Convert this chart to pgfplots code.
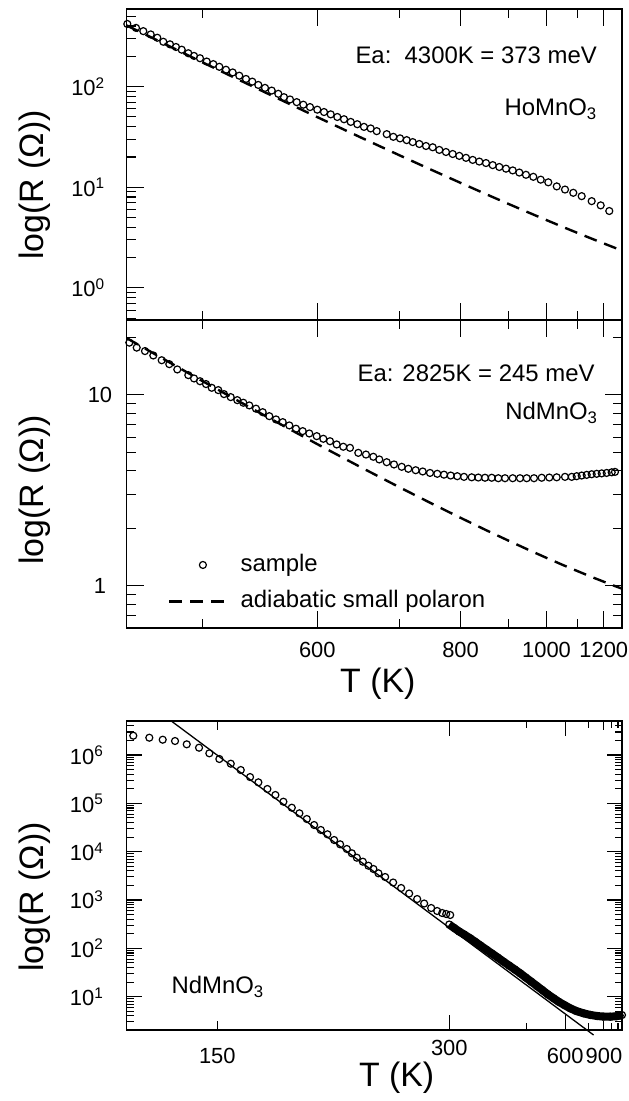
\documentclass[border=0pt]{standalone}
\usepackage{fontspec}
\setmainfont{Liberation Sans}
\usepackage{pgfplots}
\pgfplotsset{compat=1.18}
\pgfplotsset{/pgf/number format/assume math mode=true}
\pgfplotsset{
  myaxis/.style={
    scale only axis, width=495.3bp,
    axis line style={line width=1.5bp},
    every tick/.append style={black, line width=1.1bp},
    major tick length=17bp, minor tick length=9bp,
    tick label style={font=\fontsize{22}{26}\selectfont},
    label style={font=\fontsize{34}{40}\selectfont},
    x dir=reverse,
    yticklabel style={anchor=center},
    xticklabel style={anchor=center},
  },
  samp/.style={only marks, mark=o, mark size=3.5bp, mark options={line width=1.2bp, black}},
  polar/.style={black, line width=2.4bp, dash pattern=on 13bp off 8bp},
  legdash/.style={legend image code/.code={\draw[##1] (0bp,0bp) -- (60bp,0bp);}},
  legcirc/.style={legend image code/.code={\draw[mark repeat=2,mark phase=2,##1] plot coordinates {(0bp,0bp) (33.5bp,0bp) (60bp,0bp)};}},
}
\begin{document}
\begin{tikzpicture}[x=1bp,y=1bp]
\path[use as bounding box] (0,0) rectangle (629,-1101);
% ---------------- top panel: HoMnO3
\begin{axis}[ymode=log, myaxis, at={(126.7bp,-320bp)}, anchor=south west, height=311bp,
  xmin=0.7804, xmax=2.2211, ymin=0.48, ymax=590,
  xtick={1.6667,1.25,1,0.8333}, xticklabels={}, minor xtick={2,1.4286,1.1111,0.9091},
  ytick={1,10,100}, yticklabels={10\textsuperscript{0},10\textsuperscript{1},10\textsuperscript{2}},
  minor ytick={0.5,0.6,0.7,0.8,0.9,2,3,4,5,6,7,8,9,20,30,40,50,60,70,80,90,200,300,400,500},
  ytick pos=left, yticklabel style={xshift=-38.7bp},
  ylabel={log(R (Ω))}, ylabel style={at={(axis description cs:-0.185,0.434)}, anchor=center},
]
\addplot[polar] coordinates {
(2.2211,405) (2.0,173.8) (1.8182,87.5) (1.6667,49.75) (1.5385,31.05) (1.4286,20.85)
(1.3333,14.83) (1.25,11.06) (1.1765,8.56) (1.1111,6.845) (1.0526,5.62) (1.0,4.717)
(0.9524,4.035) (0.9091,3.51) (0.8696,3.096) (0.8333,2.764) (0.8,2.495) (0.7804,2.34)};
\addplot[samp] coordinates {
(2.2193,419) (2.1940,383) (2.1728,355.6) (2.1513,330) (2.1321,305.8) (2.1146,278.9)
(2.0952,263) (2.0777,247.4) (2.0611,232.6) (2.0419,214.5) (2.0253,201.8) (2.0079,191.4)
(1.9884,177.4) (1.9692,167.2) (1.9517,157.3) (1.9323,147) (1.9128,138.2) (1.8936,128.3)
(1.8741,119.1) (1.8558,112) (1.8383,103.9) (1.8188,97.1) (1.7993,91.3) (1.7801,84.8)
(1.7636,78.5) (1.7461,74.5) (1.7266,70.1) (1.7074,66.1) (1.6879,62.6) (1.6667,59.0)
(1.6472,55.9) (1.6277,53.0) (1.6085,49.9) (1.5890,47.4) (1.5695,44.6) (1.5504,42.3)
(1.5309,39.8) (1.5114,38.4) (1.4939,36.1) (1.4648,33.7) (1.4456,31.7) (1.4261,30.6)
(1.4067,29.4) (1.3892,28.1) (1.3700,26.9) (1.3505,25.7) (1.3310,24.96) (1.3118,23.5)
(1.2924,22.4) (1.2729,21.4) (1.2537,20.5) (1.2342,19.6) (1.2147,18.7) (1.1955,18.0)
(1.1760,17.4) (1.1565,16.6) (1.1373,15.9) (1.1178,15.3) (1.0983,14.7) (1.0791,14.0)
(1.0597,13.3) (1.0384,12.7) (1.0169,11.9) (0.9948,11.2) (0.9702,10.2) (0.9462,9.49)
(0.9221,8.81) (0.8977,8.16) (0.8686,7.28) (0.8424,6.61) (0.8174,5.81)};
\node[anchor=base east, inner sep=0, font=\fontsize{24}{28}\selectfont] at (axis description cs:0.9495,0.8254) {Ea:\ \ 4300K = 373 meV};
\node[anchor=base east, inner sep=0, font=\fontsize{24}{28}\selectfont] at (axis description cs:0.9495,0.656) {HoMnO\textsubscript{3}};
\end{axis}
% ---------------- middle panel: NdMnO3
\begin{axis}[ymode=log, myaxis, at={(126.7bp,-628bp)}, anchor=south west, height=308bp,
  xmin=0.7804, xmax=2.2211, ymin=0.6, ymax=24.7,
  xtick={1.6667,1.25,1,0.8333}, xticklabels={600,800,1000,1200}, minor xtick={2,1.4286,1.1111,0.9091},
  xticklabel style={yshift=-22bp},
  xlabel={T (K)}, xlabel style={at={(axis description cs:0.507,-0.182)}, anchor=center},
  ytick={1,10}, yticklabels={1,10},
  minor ytick={0.6,0.7,0.8,0.9,2,3,4,5,6,7,8,9,20},
  yticklabel style={xshift=-26.7bp},
  ylabel={log(R (Ω))}, ylabel style={at={(axis description cs:-0.185,0.448)}, anchor=center},
  reverse legend,
  legend style={at={(axis description cs:0.0834,0.2484)}, anchor=north west, draw=none, fill=none,
    font=\fontsize{24}{28}\selectfont, row sep=10bp, inner sep=0pt,
    nodes={inner sep=2bp, text height=17.5bp, text depth=5bp},
    /tikz/every odd column/.append style={column sep=8bp}},
  legend cell align=left,
]
\addplot[polar, legdash] coordinates {
(2.2211,19.85) (2.0,11.80) (1.8182,7.765) (1.6667,5.521) (1.5385,4.164) (1.4286,3.287)
(1.3333,2.692) (1.25,2.269) (1.1765,1.958) (1.1111,1.724) (1.0526,1.542) (1.0,1.399)
(0.9524,1.284) (0.9091,1.191) (0.8696,1.113) (0.8333,1.049) (0.8,0.994) (0.7804,0.965)};
\addlegendentry{adiabatic small polaron}
\addplot[samp, legcirc] coordinates {
(2.2135,18.8) (2.1920,17.7) (2.1679,16.98) (2.1437,16.1) (2.1193,15.2) (2.0972,14.5)
(2.0739,13.6) (2.0419,12.7) (2.0253,12.2) (2.0079,11.8) (1.9904,11.4) (1.9738,10.9)
(1.9547,10.6) (1.9381,10.1) (1.9186,9.74) (1.8994,9.39) (1.8819,9.10) (1.8645,8.81)
(1.8450,8.47) (1.8255,8.12) (1.8063,7.74) (1.7868,7.44) (1.7673,7.20) (1.7481,6.92)
(1.7287,6.65) (1.7092,6.46) (1.6900,6.28) (1.6684,6.08) (1.6492,5.89) (1.6298,5.72)
(1.6103,5.50) (1.5911,5.35) (1.5716,5.28) (1.5474,4.97) (1.5251,4.87) (1.5038,4.74)
(1.4864,4.59) (1.4648,4.44) (1.4436,4.32) (1.4212,4.20) (1.4020,4.10) (1.3805,4.03)
(1.3601,3.97) (1.3389,3.90) (1.3177,3.86) (1.2982,3.82) (1.2787,3.78) (1.2595,3.75)
(1.2400,3.72) (1.2176,3.70) (1.1984,3.69) (1.1789,3.68) (1.1594,3.68) (1.1402,3.66)
(1.1207,3.66) (1.0983,3.66) (1.0771,3.66) (1.0576,3.66) (1.0364,3.66) (1.0140,3.68)
(0.9919,3.69) (0.9704,3.70) (0.9462,3.72) (0.9267,3.72) (0.9122,3.75) (0.8977,3.78)
(0.8831,3.81) (0.8686,3.84) (0.8540,3.86) (0.8395,3.88) (0.8250,3.90) (0.8104,3.93)
(0.8008,3.95)};
\addlegendentry{sample}
\node[anchor=base east, inner sep=0, font=\fontsize{24}{28}\selectfont] at (axis description cs:0.945,0.7997) {Ea: 2825K = 245 meV};
\node[anchor=base east, inner sep=0, font=\fontsize{24}{28}\selectfont] at (axis description cs:0.951,0.6776) {NdMnO\textsubscript{3}};
\end{axis}
% ---------------- bottom panel: NdMnO3 wide range
\begin{axis}[ymode=log, myaxis, at={(126.7bp,-1030bp)}, anchor=south west, height=309bp,
  xmin=0.8513, xmax=7.9695, ymin=2.04, ymax=5.05e6, clip=false,
  xtick={3.3333,1.6667}, xticklabels={\raisebox{16bp}{300},600},
  extra x ticks={6.6667,1.1111}, extra x tick labels={150,900},
  extra x tick style={major tick length=9bp},
  minor xtick={2.2222,1.3333,1,0.9091},
  xticklabel style={yshift=-26bp},
  xlabel={T (K)}, xlabel style={at={(axis description cs:0.545,-0.155)}, anchor=center},
  ytick={10,100,1000,10000,100000,1000000},
  yticklabels={10\textsuperscript{1},10\textsuperscript{2},10\textsuperscript{3},10\textsuperscript{4},10\textsuperscript{5},10\textsuperscript{6}},
  minor ytick={3,4,5,6,7,8,9,20,30,40,50,60,70,80,90,200,300,400,500,600,700,800,900,2000,3000,4000,5000,6000,7000,8000,9000,20000,30000,40000,50000,60000,70000,80000,90000,200000,300000,400000,500000,600000,700000,800000,900000,2000000,3000000,4000000,5000000},
  yticklabel style={xshift=-40bp},
  minor tick length=7bp, major tick length=15bp,
  ylabel={log(R (Ω))}, ylabel style={at={(axis description cs:-0.185,0.43)}, anchor=center},
]
\addplot[black, line width=8bp] coordinates {
(3.3348,311.1) (3.2629,263.4) (3.1910,222.8) (3.1191,193.1) (3.0328,161.2) (2.9609,136.5)
(2.8890,115.5) (2.7927,92.3) (2.7164,77.4) (2.6374,64.6) (2.5540,52.9) (2.4720,43.9)
(2.3929,36.6) (2.3138,30.4) (2.2347,24.9) (2.1557,20.4) (2.0737,16.6) (1.9975,13.7)
(1.9184,11.2) (1.8350,9.25) (1.7602,7.82) (1.6811,6.72) (1.5948,5.74) (1.5085,5.05)
(1.4036,4.52) (1.3072,4.19) (1.2109,3.98) (1.1203,3.87) (1.0196,3.85) (0.9334,3.94)
(0.8830,4.06) (0.8514,4.17)};
\addplot[samp] coordinates {
(3.3348,311.1) (3.2629,263.4) (3.1910,222.8) (3.1191,193.1) (3.0328,161.2) (2.9609,136.5)
(2.8890,115.5) (2.7927,92.3) (2.7164,77.4) (2.6374,64.6) (2.5540,52.9) (2.4720,43.9)
(2.3929,36.6) (2.3138,30.4) (2.2347,24.9) (2.1557,20.4) (2.0737,16.6) (1.9975,13.7)
(1.9184,11.2) (1.8350,9.25) (1.7602,7.82) (1.6811,6.72) (1.5948,5.74) (1.5085,5.05)
(1.4036,4.52) (1.3072,4.19) (1.2109,3.98) (1.1203,3.87) (1.0196,3.85) (0.9334,3.94)
(0.8830,4.06) (0.8514,4.17)};
\addplot[samp] coordinates {
(7.8746,2.507e6) (7.6445,2.28e6) (7.4519,2.073e6) (7.2750,1.949e6) (7.1067,1.665e6)
(6.9298,1.416e6) (6.7817,1.084e6) (6.6379,8.27e5) (6.4740,6.61e5) (6.3302,4.89e5)
(6.1964,3.50e5) (6.0771,2.72e5) (5.9477,1.98e5) (5.8326,1.487e5) (5.7176,1.081e5)
(5.5968,8.12e4) (5.4875,6.22e4) (5.3811,4.74e4) (5.2761,3.56e4) (5.1798,2.81e4)
(5.0849,2.29e4) (4.9885,1.743e4) (4.9022,1.42e4) (4.8059,1.136e4) (4.7340,9250)
(4.6621,7500) (4.5758,6200) (4.4953,5120) (4.4234,4380) (4.3515,3566)
(4.2551,2990) (4.1401,2300) (4.0250,1771) (3.9100,1362) (3.7949,1048) (3.6943,846)
(3.5936,683) (3.5073,592) (3.4354,538) (3.3779,513) (3.3204,489)};
\addplot[black, line width=1.3bp] coordinates {(7.33,5.07e6) (1.2597,1.61)};
\node[anchor=base west, inner sep=0, font=\fontsize{24}{28}\selectfont] at (axis description cs:0.0902,0.1188) {NdMnO\textsubscript{3}};
\end{axis}
\end{tikzpicture}
\end{document}
